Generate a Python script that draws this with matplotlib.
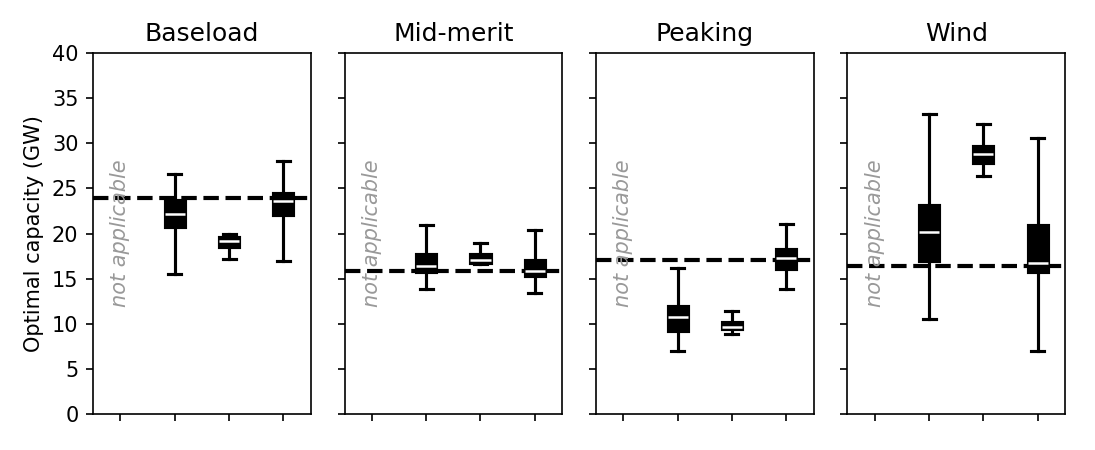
import matplotlib
matplotlib.use('Agg')
import matplotlib.pyplot as plt

# Box statistics (positions 2-4; position 1 is not applicable)
panels = ['Baseload', 'Mid-merit', 'Peaking', 'Wind']
positions = [2, 3, 4]

whislo = [[15.5, 17.2, 16.95], [13.9, 16.6, 13.45], [7.0, 8.85, 13.85], [10.5, 26.4, 7.0]]
q1 = [[20.7, 18.5, 22.1], [15.7, 16.77, 15.3], [9.25, 9.38, 16.1], [17.0, 27.8, 15.7]]
med = [[22.2, 19.17, 23.6], [16.4, 17.06, 15.9], [10.8, 9.6, 17.3], [20.2, 28.85, 16.7]]
q3 = [[23.7, 19.65, 24.5], [17.7, 17.7, 17.1], [12.0, 10.23, 18.3], [23.2, 29.7, 20.9]]
whishi = [[26.6, 20.0, 28.0], [21.0, 18.95, 20.4], [16.2, 11.4, 21.1], [33.2, 32.1, 30.6]]

# reference level (dashed line) per panel
reference = [23.9, 15.85, 17.06, 16.35]

fig, axes = plt.subplots(1, 4, figsize=(7.3, 3.0), dpi=150, sharey=True)
fig.subplots_adjust(left=0.085, right=0.9726, top=0.882, bottom=0.08, wspace=0.156)

for i, ax in enumerate(axes):
    stats = []
    for j in range(len(positions)):
        stats.append({'whislo': whislo[i][j], 'q1': q1[i][j], 'med': med[i][j],
                      'q3': q3[i][j], 'whishi': whishi[i][j], 'fliers': []})
    ax.bxp(stats, positions=positions, widths=0.37, capwidths=0.24,
           patch_artist=True, showfliers=False,
           boxprops=dict(facecolor='black', edgecolor='black', linewidth=1.5),
           medianprops=dict(color='white', linewidth=1.2),
           whiskerprops=dict(color='black', linewidth=1.5),
           capprops=dict(color='black', linewidth=1.5))
    ax.axhline(reference[i], color='black', linestyle='--', linewidth=2)
    ax.text(1, 20, 'not applicable', rotation=90, ha='center', va='center',
            color='#999999', style='italic', fontsize=10)
    ax.set_title(panels[i], fontsize=12)
    ax.set_xlim(0.5, 4.5)
    ax.set_xticks([1, 2, 3, 4])
    ax.set_xticklabels([])
    ax.set_ylim(0, 40)
    ax.set_yticks(range(0, 41, 5))

axes[0].set_ylabel('Optimal capacity (GW)')

fig.savefig('out.png', dpi=150)
